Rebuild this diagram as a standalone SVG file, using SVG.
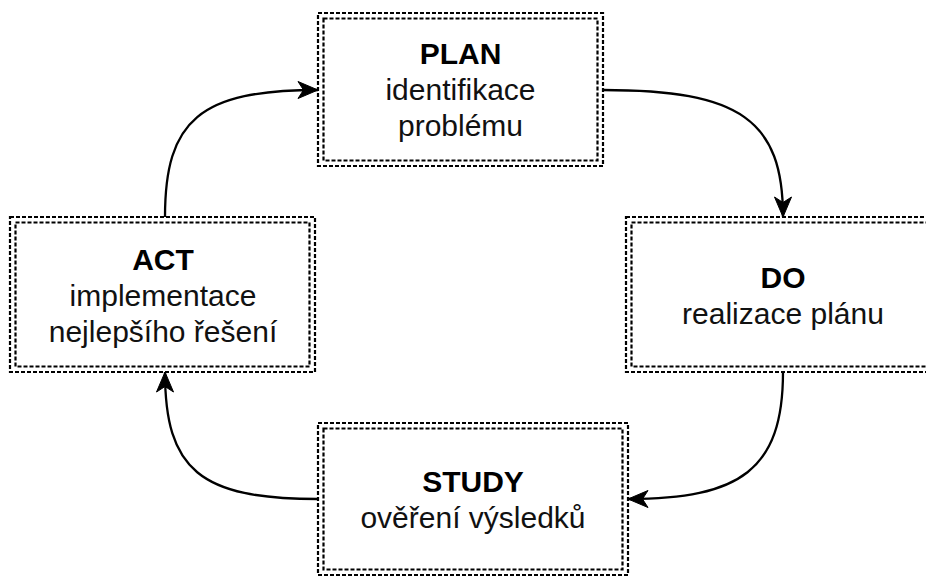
<svg xmlns="http://www.w3.org/2000/svg" width="926" height="576" viewBox="0 0 926 576">
  <style>
    .frame { fill: none; stroke: #000; stroke-width: 2.2; stroke-dasharray: 4 2; }
    .bg { fill: #fff; }
    .title { font-family: "Liberation Sans", Arial, sans-serif; font-size: 30px; font-weight: bold; fill: #000; text-anchor: middle; }
    .sub { font-family: "Liberation Sans", Arial, sans-serif; font-size: 30px; fill: #111; text-anchor: middle; }
    .edge { fill: none; stroke: #000; stroke-width: 2.3; marker-end: url(#arrow); }
  </style>
  <defs>
    <marker id="arrow" markerUnits="userSpaceOnUse" markerWidth="22" markerHeight="20" viewBox="0 0 22 20" refX="21" refY="10" orient="auto">
      <path d="M21,10 L1,1.5 L6.5,10 L1,18.5 Z" fill="#000" stroke="#000" stroke-width="1"/>
    </marker>
  </defs>
  <rect width="926" height="576" fill="#fff"/>

  <g id="plan">
    <rect class="bg" x="318" y="13" width="285" height="153"/>
    <rect class="frame" x="318" y="13" width="285" height="153"/>
    <rect class="frame" x="323.5" y="18.5" width="274" height="142"/>
    <text class="title" x="460.5" y="64">PLAN</text>
    <text class="sub" x="460.5" y="100">identifikace</text>
    <text class="sub" x="460.5" y="136">problému</text>
  </g>

  <g id="do">
    <rect class="bg" x="626" y="217" width="314" height="155"/>
    <rect class="frame" x="626" y="217" width="314" height="155"/>
    <rect class="frame" x="631.5" y="222.5" width="303" height="144"/>
    <text class="title" x="783" y="288">DO</text>
    <text class="sub" x="783" y="324">realizace plánu</text>
  </g>

  <g id="act">
    <rect class="bg" x="10" y="217" width="305" height="155"/>
    <rect class="frame" x="10" y="217" width="305" height="155"/>
    <rect class="frame" x="15.5" y="222.5" width="294" height="144"/>
    <text class="title" x="163" y="270">ACT</text>
    <text class="sub" x="163" y="306">implementace</text>
    <text class="sub" x="163" y="342">nejlepšího řešení</text>
  </g>

  <g id="study">
    <rect class="bg" x="318" y="423" width="310" height="152"/>
    <rect class="frame" x="318" y="423" width="310" height="152"/>
    <rect class="frame" x="323.5" y="428.5" width="299" height="141"/>
    <text class="title" x="473" y="492">STUDY</text>
    <text class="sub" x="473" y="528">ověření výsledků</text>
  </g>

  <g id="connectors">
    <path class="edge" d="M165,217 C165,120 200,90 318,90"/>
    <path class="edge" d="M603,90 C740,90 783,120 783,217"/>
    <path class="edge" d="M783,372 C783,470 740,499 628,499"/>
    <path class="edge" d="M318,499 C200,499 165,470 165,372"/>
  </g>
</svg>
